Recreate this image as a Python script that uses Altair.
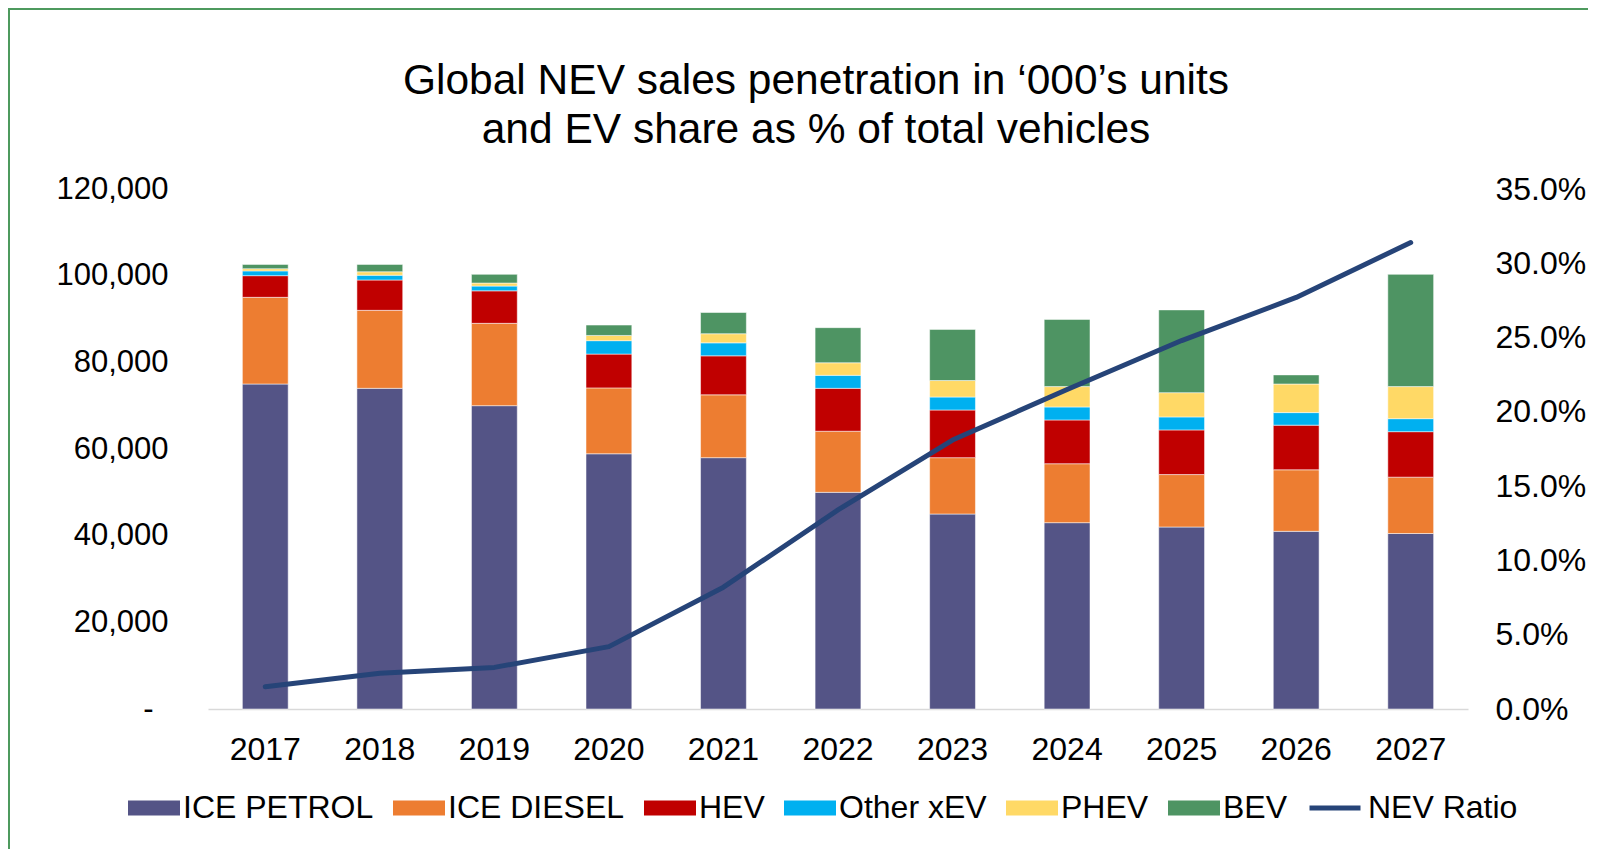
import altair as alt
import pandas as pd

years = ["2017", "2018", "2019", "2020", "2021", "2022", "2023", "2024", "2025", "2026", "2027"]
series_names = ["ICE PETROL", "ICE DIESEL", "HEV", "Other xEV", "PHEV", "BEV"]
series_colors = ["#545486", "#ED7D31", "#C00000", "#00B0F0", "#FFD966", "#4E9463"]

ice_petrol = [75000, 74000, 70000, 58900, 58000, 50000, 45000, 43000, 42000, 41000, 40500]
ice_diesel = [20000, 18000, 19000, 15200, 14500, 14100, 13000, 13600, 12100, 14200, 13000]
hev = [5000, 7000, 7500, 7800, 9000, 9900, 11000, 10100, 10300, 10300, 10500]
other_xev = [1100, 1100, 1100, 3100, 3000, 3000, 3000, 3000, 3000, 2900, 3000]
phev = [500, 800, 700, 1200, 2100, 2900, 3800, 4700, 5600, 6600, 7400]
bev = [1000, 1700, 2000, 2400, 4900, 8100, 11800, 15500, 19100, 2100, 25900]
nev_ratio = [0.015, 0.024, 0.028, 0.042, 0.082, 0.134, 0.181, 0.215, 0.248, 0.277, 0.314]

title_lines = ["Global NEV sales penetration in \u2018000\u2019s units",
               "and EV share as % of total vehicles"]

FONT = "Liberation Sans, Arial, sans-serif"
LINE_COLOR = "#264478"
FRAME_COLOR = "#4E9A5E"
FS = 32

rows = []
for k, (name, vals) in enumerate(zip(series_names, [ice_petrol, ice_diesel, hev, other_xev, phev, bev])):
    for y, v in zip(years, vals):
        rows.append({"year": y, "series": name, "value": v, "order": k})
df = pd.DataFrame(rows)
df_line = pd.DataFrame({"year": years, "ratio": nev_ratio, "label": ["NEV Ratio"] * len(years)})

x_enc = alt.X(
    "year:N",
    sort=years,
    title=None,
    scale=alt.Scale(paddingInner=0.6, paddingOuter=0.3),
    axis=alt.Axis(domain=True, domainColor="#D9D9D9", domainWidth=1.5, ticks=False,
                  labelPadding=25, labelAngle=0),
)

bars = alt.Chart(df).mark_bar(stroke="white", strokeWidth=1, strokeOpacity=0.5).encode(
    x=x_enc,
    y=alt.Y("value:Q", stack="zero", title=None,
            scale=alt.Scale(domain=[0, 120000]),
            axis=alt.Axis(values=[0, 20000, 40000, 60000, 80000, 100000, 120000],
                          labelExpr="datum.value == 0 ? '-' : format(datum.value, ',')",
                          labelPadding={"condition": {"test": "datum.value === 0", "value": 55},
                                        "value": 40},
                          labelFontSize=31,
                          domain=False, ticks=False)),
    color=alt.Color("series:N",
                    scale=alt.Scale(domain=series_names, range=series_colors),
                    legend=alt.Legend(title=None, orient="none", legendX=-80, legendY=593,
                                      direction="horizontal", columns=6,
                                      symbolType="M-1,-0.29H1V0.29H-1Z", symbolSize=2704,
                                      symbolStrokeWidth=0, columnPadding=19, labelOffset=3,
                                      padding=0, labelLimit=0)),
    order=alt.Order("order:Q", sort="ascending"),
)

line = alt.Chart(df_line).mark_line(strokeWidth=5, strokeCap="round", strokeJoin="round").encode(
    x=alt.X("year:N", sort=years, title=None),
    y=alt.Y("ratio:Q", title=None, scale=alt.Scale(domain=[0, 0.35]),
            axis=alt.Axis(orient="right", format=".1%",
                          values=[0, 0.05, 0.10, 0.15, 0.20, 0.25, 0.30, 0.35],
                          labelPadding=27, domain=False, ticks=False, labelAlign="left")),
    stroke=alt.Stroke("label:N", scale=alt.Scale(domain=["NEV Ratio"], range=[LINE_COLOR]),
                      legend=alt.Legend(title=None, orient="none", legendX=1099, legendY=591,
                                        symbolType="stroke", symbolSize=2601,
                                        symbolStrokeWidth=5, labelOffset=5, padding=0,
                                        labelLimit=0)),
)

aux_df = pd.DataFrame({"k": [0]})
title1 = alt.Chart(aux_df).mark_text(
    font=FONT, fontSize=42.5, color="black", align="center", baseline="alphabetic"
).encode(x=alt.value(608), y=alt.value(-95), text=alt.value(title_lines[0]))
title2 = alt.Chart(aux_df).mark_text(
    font=FONT, fontSize=42.5, color="black", align="center", baseline="alphabetic"
).encode(x=alt.value(608), y=alt.value(-46), text=alt.value(title_lines[1]))

frame_top = alt.Chart(aux_df).mark_rule(color=FRAME_COLOR, strokeWidth=2).encode(
    x=alt.value(-200), x2=alt.value(1380), y=alt.value(-180))
frame_left = alt.Chart(aux_df).mark_rule(color=FRAME_COLOR, strokeWidth=2).encode(
    x=alt.value(-199), y=alt.value(-181), y2=alt.value(660))

chart = alt.layer(bars, line, title1, title2, frame_top, frame_left).resolve_scale(
    y="independent"
).properties(
    width=1260,
    height=520,
    padding={"left": 200, "top": 181, "right": 120, "bottom": 140},
    autosize=alt.AutoSizeParams(type="none"),
).configure_view(stroke=None).configure_axis(
    labelFont=FONT, labelFontSize=FS, labelColor="black", grid=False,
).configure_legend(
    labelFont=FONT, labelFontSize=FS, labelColor="black",
)

chart.save("out.html", embed_options={"renderer": "svg", "actions": False})
